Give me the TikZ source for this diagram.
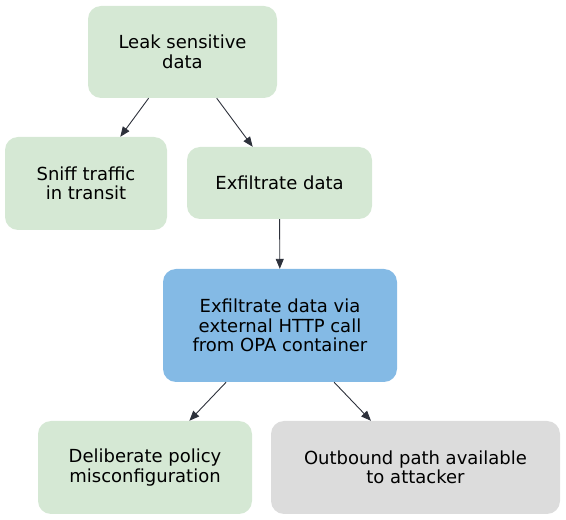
\documentclass[tikz,border=0pt]{standalone}
\usepackage{fontspec}
\setmainfont{DejaVu Sans}
\usetikzlibrary{arrows.meta}
\definecolor{gfill}{HTML}{D5E8D4}
\definecolor{bfill}{HTML}{84BAE5}
\definecolor{nfill}{HTML}{DCDCDC}
\definecolor{edgec}{HTML}{2D313B}
\tikzset{
  box/.style={rectangle, rounded corners=13pt, draw=none, align=center, inner sep=0pt,
    font=\fontsize{18}{19.5}\selectfont, text=black},
  green/.style={box, fill=gfill},
  blue/.style={box, fill=bfill},
  grey/.style={box, fill=nfill},
  conn/.style={draw=edgec, line width=0.9pt, -{Triangle[length=10pt,width=8pt]}}
}
\begin{document}
\begin{tikzpicture}[x=1pt,y=1pt]
\useasboundingbox (0,0) rectangle (566,520);
\node[green, minimum width=189pt, minimum height=92pt] (leak) at (182.5,468) {Leak sensitive\\data};
\node[green, minimum width=162pt, minimum height=93pt] (sniff) at (86,336.5) {Sniff traffic\\in transit};
\node[green, minimum width=185pt, minimum height=72pt] (exf) at (279.5,337) {Exfiltrate data};
\node[blue, minimum width=234pt, minimum height=113pt] (http) at (280,194.5) {Exfiltrate data via\\external HTTP call\\from OPA container};
\node[green, minimum width=214pt, minimum height=93pt] (delib) at (145,52.5) {Deliberate policy\\misconfiguration};
\node[grey, minimum width=289pt, minimum height=93pt] (outb) at (415.5,52.5) {Outbound path available\\to attacker};
\draw[conn] (leak) -- (sniff);
\draw[conn] (leak) -- (exf);
\draw[conn] (exf) -- (http);
\draw[conn] (http) -- (delib);
\draw[conn] (http) -- (outb);
\end{tikzpicture}
\end{document}
